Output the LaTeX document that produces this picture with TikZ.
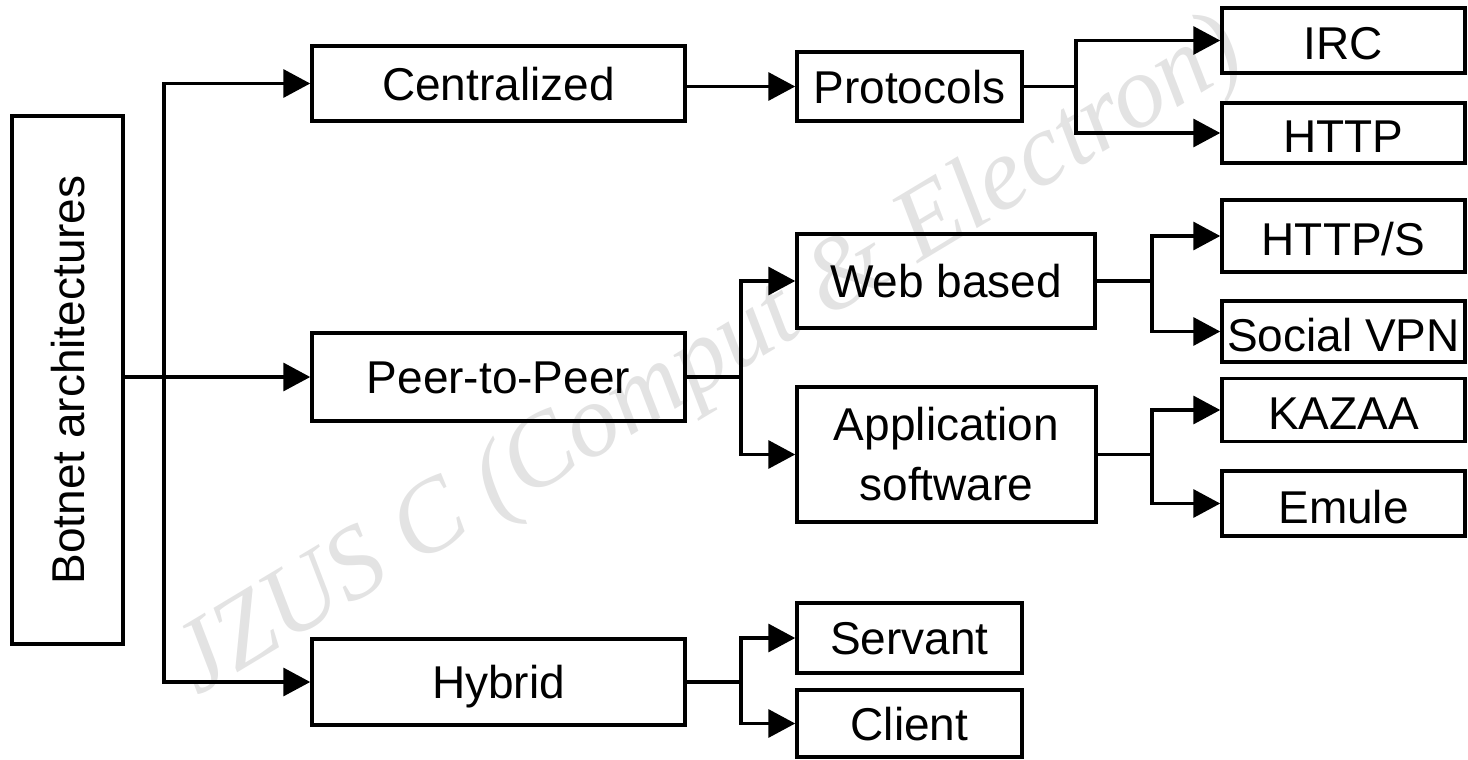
\documentclass[tikz,border=0pt]{standalone}
\usepackage{fontspec}
\setmainfont{Liberation Sans}
\newfontfamily\wmfont{Liberation Serif}
\usetikzlibrary{arrows.meta}
\tikzset{
  box/.style={draw, line width=3.5pt, inner sep=0pt, font=\fontsize{46}{60}\selectfont},
  cbox/.style={box, text height=33pt, text depth=0pt},
  rbox/.style={box, text height=39pt, text depth=0pt, minimum width=243pt},
  conn/.style={line width=3.5pt},
  arr/.style={conn, -{Triangle[length=27pt,width=28pt]}},
}
\begin{document}
\begin{tikzpicture}[x=1pt,y=-1pt]
\useasboundingbox (0,0) rectangle (1468,760);
% watermark
\node[anchor=base west, rotate=31, inner sep=0pt, text=gray!22,
      font=\wmfont\itshape\fontsize{103}{103}\selectfont] (wm) at (197,697) {JZUS C (Comput \& Electron)};
% boxes
\node[cbox, rotate=90, minimum width=528pt, minimum height=111pt] (bot) at (67.5,380) {Botnet architectures};
\node[cbox, minimum width=373pt, minimum height=75pt] (cen) at (498.5,83.5) {Centralized};
\node[cbox, minimum width=373pt, minimum height=88pt] (p2p) at (498.5,377) {Peer-to-Peer};
\node[cbox, minimum width=373pt, minimum height=86pt] (hyb) at (498.5,682) {Hybrid};
\node[cbox, minimum width=225pt, minimum height=69pt] (pro) at (909.5,86.5) {Protocols};
\node[cbox, minimum width=298pt, minimum height=94pt] (web) at (946,281) {Web based};
\node[box, align=center, minimum width=299pt, minimum height=135pt] (app) at (946.5,454.5) {Application\\software};
\node[cbox, minimum width=225pt, minimum height=70pt] (ser) at (909.5,638) {Servant};
\node[cbox, minimum width=225pt, minimum height=67pt] (cli) at (909.5,723.5) {Client};
\node[rbox, minimum height=65pt] (irc) at (1343.5,40.5) {IRC};
\node[rbox, minimum height=60pt] (http) at (1343.5,133) {HTTP};
\node[rbox, minimum height=72pt] (https) at (1343.5,236) {HTTP/S};
\node[rbox, minimum height=61pt] (svpn) at (1343.5,331.5) {Social VPN};
\node[rbox, minimum height=63pt] (kaz) at (1343.5,410) {KAZAA};
\node[rbox, minimum height=65pt] (emu) at (1343.5,503.5) {Emule};
% branch coordinates
\coordinate (tr) at (164,0);
\coordinate (b1) at (1076,0);
\coordinate (b2) at (741,0);
\coordinate (b3) at (1152,0);
% connectors (bot is rotated: its south anchor is on the right)
\draw[arr] (bot.south |- p2p.west) -- (p2p.west);
\draw[arr] (tr |- p2p.west) |- (cen.west);
\draw[arr] (tr |- p2p.west) |- (hyb.west);
\draw[arr] (cen.east |- pro.west) -- (pro.west);
\draw[arr] (pro.east) -- (b1 |- pro.east) |- (irc.west);
\draw[arr] (b1 |- pro.east) |- (http.west);
\draw[arr] (p2p.east) -- (b2 |- p2p.east) |- (web.west);
\draw[arr] (b2 |- p2p.east) |- (app.west);
\draw[arr] (web.east) -- (b3 |- web.east) |- (https.west);
\draw[arr] (b3 |- web.east) |- (svpn.west);
\draw[arr] (app.east) -- (b3 |- app.east) |- (kaz.west);
\draw[arr] (b3 |- app.east) |- (emu.west);
\draw[arr] (hyb.east) -- (b2 |- hyb.east) |- (ser.west);
\draw[arr] (b2 |- hyb.east) |- (cli.west);
\end{tikzpicture}
\end{document}
